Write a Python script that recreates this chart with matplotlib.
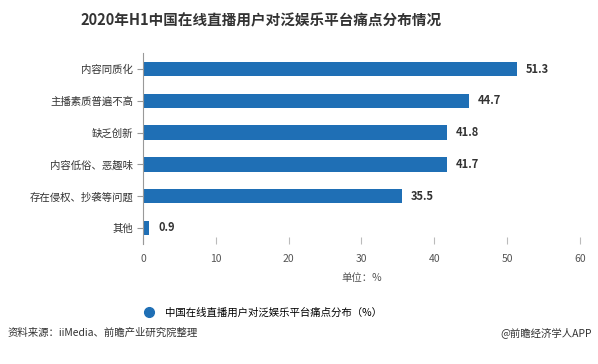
import matplotlib
matplotlib.use("Agg")
import matplotlib.pyplot as plt
from matplotlib.lines import Line2D

plt.rcParams['font.family'] = ['Noto Sans CJK SC', 'DejaVu Sans']

categories = ['内容同质化', '主播素质普遍不高', '缺乏创新', '内容低俗、恶趣味', '存在侵权、抄袭等问题', '其他']
values = [51.3, 44.7, 41.8, 41.7, 35.5, 0.9]
xticks = [0, 10, 20, 30, 40, 50, 60]
title = '2020年H1中国在线直播用户对泛娱乐平台痛点分布情况'
legend_label = '中国在线直播用户对泛娱乐平台痛点分布（%）'
unit_label = '单位：%'
source = '资料来源：iiMedia、前瞻产业研究院整理'
credit = '@前瞻经济学人APP'

bar_color = '#1f6fb5'

fig = plt.figure(figsize=(5.98, 3.64), dpi=100)
ax = fig.add_axes([0.239, 0.330, 0.731, 0.524])

y = list(range(len(categories)))
ax.barh(y, values, height=0.45, color=bar_color)
for yi, v in zip(y, values):
    ax.text(v + 1.2, yi, f'{v}', va='center', ha='left', fontsize=8,
            fontweight='bold', color='#333333')

ax.set_ylim(len(categories) - 0.5, -0.5)
ax.set_yticks(y)
ax.set_yticklabels(categories, fontsize=7.5, color='#333333')
ax.set_xlim(0, 60)
ax.set_xticks(xticks)
ax.set_xticklabels([str(t) for t in xticks], fontsize=7.5, color='#555555')

for s in ['top', 'right', 'bottom']:
    ax.spines[s].set_visible(False)
ax.spines['left'].set_color('#999999')
ax.spines['left'].set_linewidth(0.8)
ax.tick_params(axis='y', length=4, color='#999999', pad=3)
ax.tick_params(axis='x', length=5, direction='in', color='#bbbbbb', pad=7)

ax.set_xlabel(unit_label, fontsize=7.5, color='#555555', labelpad=7)

fig.text(0.437, 0.945, title, ha='center', va='center', fontsize=10.5,
         fontweight='bold', color='#333333')

# legend
handle = Line2D([0], [0], marker='o', color='none', markerfacecolor=bar_color,
                markeredgecolor=bar_color, markersize=7)
fig.legend([handle], [legend_label], loc='center', bbox_to_anchor=(0.435, 0.142),
           frameon=False, fontsize=7.5, handletextpad=0.6)

fig.text(0.012, 0.085, source, ha='left', va='center', fontsize=7.5, color='#333333')
fig.text(0.99, 0.085, credit, ha='right', va='center', fontsize=7.5, color='#333333')

fig.savefig('out.png', dpi=100, facecolor='white')
